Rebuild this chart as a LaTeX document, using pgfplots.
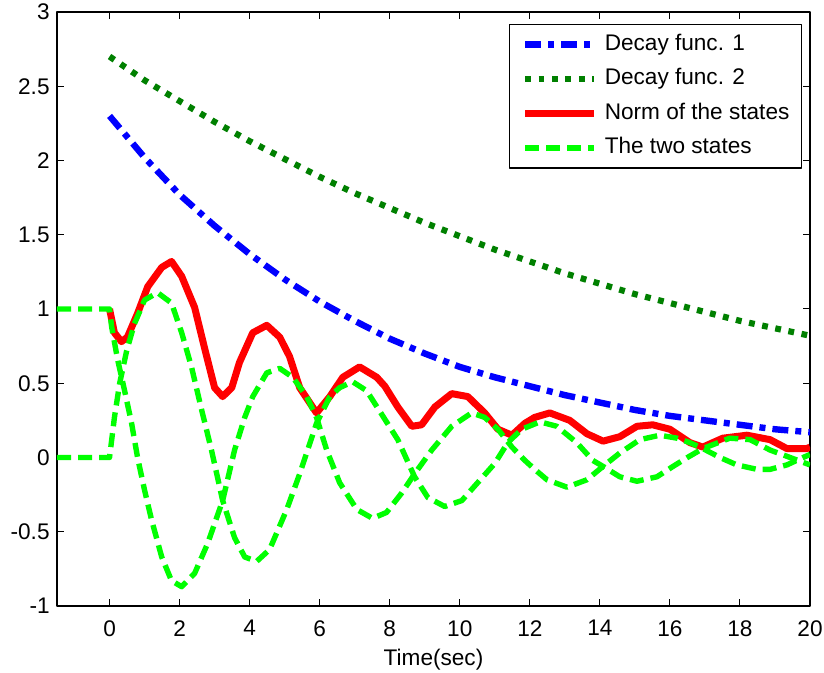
\documentclass[border=0pt]{standalone}
\usepackage{pgfplots}
\pgfplotsset{compat=1.18}
\usepackage{fontspec}
\setmainfont{Liberation Sans}

\definecolor{mblue}{rgb}{0,0,1}
\definecolor{mdkgreen}{rgb}{0,0.5,0}
\definecolor{mgreen}{rgb}{0,1,0}
\definecolor{mred}{rgb}{1,0,0}

\begin{document}
\begin{tikzpicture}[font=\fontsize{11.3bp}{13.5bp}\selectfont]
\begin{axis}[
    name=ax,
    scale only axis,
    width=376.5bp, height=297bp,
    xmin=-1.5, xmax=20, ymin=-1, ymax=3,
    xtick={0,2,4,6,8,10,12,14,16,18,20},
    xticklabels={0,2,4,6,8,10,12,14,16,18,20},
    ytick={-1,-0.5,0,0.5,1,1.5,2,2.5,3},
    yticklabels={-1,-0.5,0,0.5,1,1.5,2,2.5,3},
    tick align=inside,
    tick pos=both,
    major tick length=3.5bp,
    tick style={black, line width=0.5bp},
    axis line style={black, line width=0.6bp},
    xticklabel style={inner sep=0pt, yshift=-7bp},
    yticklabel style={inner sep=0pt, xshift=-3.5bp},
    xlabel={Time(sec)},
    xlabel style={at={(axis description cs:0.5,0)}, anchor=north, inner sep=0pt, yshift=-21.5bp},
    legend cell align=left,
    legend image code/.code={\draw (0bp,0bp) -- (34.5bp,0bp);},
    legend style={at={(1,1)}, anchor=north east, xshift=-4bp, yshift=-6bp,
        draw=black, line width=0.6bp, inner xsep=6bp, inner ysep=4.5bp,
        row sep=6.5bp, column sep=3.5bp,
        nodes={inner sep=0pt, text height=8.3bp, text depth=2.5bp},
        font=\fontsize{11.3bp}{13.5bp}\selectfont},
    line cap=butt, line join=round
    ]
% Decay func. 1
\addplot[mblue, line width=3.2bp, dash pattern=on 8bp off 3.5bp on 3bp off 3.5bp] coordinates {
(0,2.30) (1,2.02) (2,1.77) (3,1.56) (4,1.37) (5,1.20) (6,1.05) (7,0.92) (8,0.80)
(9,0.70) (10,0.61) (11,0.54) (12,0.48) (13,0.42) (14,0.37) (15,0.32) (16,0.28)
(17,0.25) (18,0.22) (19,0.19) (20,0.17)};
% Decay func. 2
\addplot[mdkgreen, line width=3.1bp, dash pattern=on 2.9bp off 3.8bp] coordinates {
(0,2.70) (1,2.54) (2,2.40) (3,2.26) (4,2.13) (5,2.01) (6,1.89) (7,1.78) (8,1.68)
(9,1.58) (10,1.49) (11,1.40) (12,1.32) (13,1.24) (14,1.17) (15,1.10) (16,1.04)
(17,0.98) (18,0.92) (19,0.87) (20,0.82)};
% Norm of the states
\addplot[mred, line width=3.5bp] coordinates {
(0,1.00) (0.14,0.84) (0.34,0.78) (0.51,0.81) (0.8,0.97) (1.09,1.15) (1.49,1.28)
(1.77,1.32) (2.06,1.22) (2.43,1.01) (2.71,0.74) (3.0,0.47) (3.23,0.41) (3.49,0.47)
(3.71,0.64) (4.09,0.84) (4.49,0.89) (4.86,0.81) (5.14,0.68) (5.43,0.47) (5.91,0.30)
(6.29,0.41) (6.66,0.54) (7.14,0.61) (7.63,0.54) (7.86,0.48) (8.23,0.34) (8.63,0.21)
(8.91,0.22) (9.29,0.34) (9.77,0.43) (10.23,0.41) (10.71,0.30) (11.09,0.19) (11.49,0.15)
(11.86,0.23) (12.14,0.27) (12.57,0.30) (13.14,0.25) (13.63,0.16) (14.09,0.11) (14.57,0.14)
(15.06,0.21) (15.51,0.22) (16.0,0.19) (16.57,0.10) (16.94,0.07) (17.51,0.13) (18.2,0.15)
(18.86,0.12) (19.34,0.06) (19.91,0.06) (20,0.07)};
% The two states
\addplot[mgreen, line width=2.7bp, dash pattern=on 7bp off 3.5bp] coordinates {
(-1.5,1) (0,1) (0.06,0.88) (0.23,0.66) (0.43,0.45) (0.63,0.23) (0.8,0.0) (1.0,-0.22)
(1.2,-0.42) (1.49,-0.67) (1.77,-0.83) (2.06,-0.87) (2.43,-0.78) (2.8,-0.58) (3.23,-0.29)
(3.57,0.05) (3.86,0.27) (4.09,0.41) (4.49,0.57) (4.86,0.60) (5.23,0.54) (5.63,0.41)
(5.91,0.27) (6.2,0.05) (6.57,-0.17) (7.06,-0.35) (7.51,-0.41) (7.91,-0.37) (8.34,-0.24)
(8.71,-0.11) (9.2,0.05) (9.77,0.21) (10.34,0.30) (10.71,0.27) (11.09,0.19) (11.49,0.07)
(11.86,-0.02) (12.14,-0.08) (12.49,-0.15) (13.06,-0.20) (13.63,-0.15) (14.09,-0.06)
(14.57,0.03) (15.14,0.12) (15.71,0.15) (16.2,0.13) (16.57,0.10) (16.94,0.06) (17.43,0.0)
(17.91,-0.05) (18.49,-0.08) (18.86,-0.08) (19.34,-0.05) (19.8,0.0) (20,0.02)};
\addplot[mgreen, line width=2.7bp, dash pattern=on 7bp off 3.5bp, forget plot] coordinates {
(-1.5,0) (0,0) (0.14,0.27) (0.29,0.50) (0.49,0.72) (0.71,0.90) (1.0,1.06) (1.37,1.11)
(1.77,1.04) (2.06,0.84) (2.34,0.61) (2.63,0.32) (2.91,0.05) (3.23,-0.29) (3.57,-0.54)
(3.86,-0.67) (4.2,-0.70) (4.57,-0.62) (5.06,-0.35) (5.43,-0.11) (5.91,0.23) (6.29,0.41)
(6.57,0.47) (6.94,0.51) (7.34,0.45) (7.8,0.28) (8.23,0.12) (8.71,-0.13) (9.09,-0.27)
(9.57,-0.33) (10.06,-0.29) (10.51,-0.17) (11.0,-0.04) (11.37,0.10) (11.77,0.19)
(12.29,0.24) (12.77,0.21) (13.34,0.10) (13.8,-0.02) (14.09,-0.06) (14.57,-0.13)
(15.06,-0.16) (15.63,-0.13) (16.09,-0.06) (16.5,0.0) (16.94,0.06) (17.71,0.13)
(18.29,0.12) (18.86,0.05) (19.43,0.0) (20,-0.05)};
\legend{Decay func. 1, Decay func. 2, Norm of the states, The two states}
\end{axis}
\pgfresetboundingbox
\path[use as bounding box] ([xshift=-28.5bp, yshift=-33.5bp]ax.south west) rectangle ([xshift=7bp, yshift=6bp]ax.north east);
\end{tikzpicture}
\end{document}
